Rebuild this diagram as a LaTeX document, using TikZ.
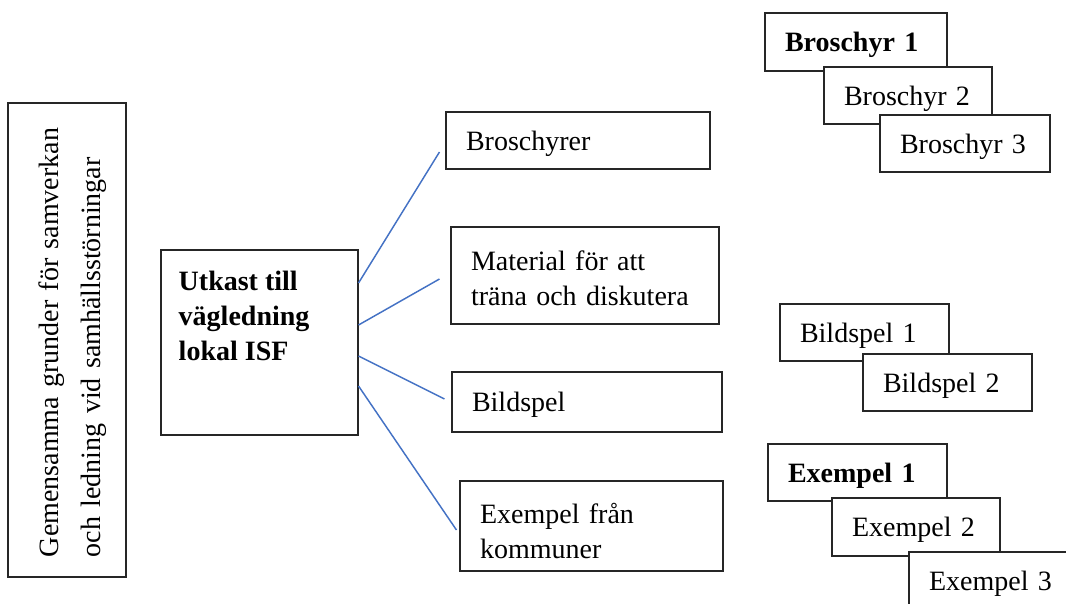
\documentclass[tikz,border=0pt]{standalone}
\usepackage{fontspec}
\setmainfont{Liberation Serif}
\usepackage{xcolor}
\usepackage{tikz}

\definecolor{linkblue}{HTML}{4472C4}
\newcommand{\boxfont}{\fontsize{21pt}{26.25pt}\selectfont}
\newcommand{\framefont}{\fontsize{21pt}{31.5pt}\selectfont}

\tikzset{
	box/.style = {draw = black!85, line width = 0.8pt, fill = white, align = left, inner xsep = 15pt, inner ysep = 0pt, font = \boxfont},
	item/.style = {box, text depth = 0pt},
	bold/.style = {font = \boxfont\bfseries},
	link/.style = {draw = linkblue, line width = 1.1pt}
}

\begin{document}
\begin{tikzpicture}[x = 0.75pt, y = -0.75pt]
					\clip (0,0) rectangle (1066,603);

					\begin{scope}
						\node [box, font = \framefont, rotate = 90, text depth = 28pt, text width = 325.5pt, minimum height = 88.5pt] (frame) at (67,340) {Gemensamma grunder för samverkan\\och ledning vid samhällsstörningar};
						\node [box, minimum width = 147.75pt, minimum height = 138.75pt] (main) at (259.5,342.5) {};
						\node [anchor = north west, inner sep = 0pt, align = left, bold] (mainText) at ([shift = {(18,21)}]main.north west) {Utkast till\\vägledning\\lokal ISF};
					\end{scope}

					\begin{scope}
						\node [item, text width = 168pt, minimum height = 42.75pt] (bro) at (578,140.5) {Broschyrer};
						\node [box, text depth = 23pt, text width = 171pt, minimum height = 72.75pt] (mat) at (585,275.5) {Material för att\\träna och diskutera};
						\node [item, text width = 172.5pt, minimum height = 45pt] (bild) at (587,402) {Bildspel};
						\node [box, text depth = 19pt, text width = 167.25pt, minimum height = 67.5pt] (ex) at (591.5,526) {Exempel från\\kommuner};
					\end{scope}

					\begin{scope}
						\coordinate (broEnd) at ([shift = {(-6,11.5)}]bro.west);
						\coordinate (matEnd) at ([shift = {(-11,3.5)}]mat.west);
						\coordinate (bildEnd) at ([shift = {(-7,-3)}]bild.west);
						\coordinate (exEnd) at ([shift = {(-3,4)}]ex.west);
						\draw [link] ([shift = {(0,-59.5)}]main.east) -- (broEnd);
						\draw [link] ([shift = {(0,-17.5)}]main.east) -- (matEnd);
						\draw [link] ([shift = {(0,13.5)}]main.east) -- (bildEnd);
						\draw [link] ([shift = {(0,43.5)}]main.east) -- (exEnd);
					\end{scope}

					\begin{scope}
						\node [item, bold, text width = 106.5pt, minimum height = 43.5pt] (bro1) at (856,42) {Broschyr 1};
						\node [item, text width = 96pt, minimum height = 42.75pt] (bro2) at (908,95.5) {Broschyr 2};
						\node [item, text width = 97.5pt, minimum height = 42.75pt] (bro3) at (965,143.5) {Broschyr 3};
					\end{scope}

					\begin{scope}
						\node [item, text width = 96.75pt, minimum height = 42.75pt] (bild1) at (864.5,332.5) {Bildspel 1};
						\node [item, text width = 96.75pt, minimum height = 42.75pt] (bild2) at (947.5,382.5) {Bildspel 2};
					\end{scope}

					\begin{scope}
						\node [item, bold, text width = 104.25pt, minimum height = 42.75pt] (ex1) at (857.5,472.5) {Exempel 1};
						\node [item, text width = 96pt, minimum height = 43.5pt] (ex2) at (916,527) {Exempel 2};
						\node [item, text width = 96pt, minimum height = 42.75pt] (ex3) at (993,580.5) {Exempel 3};
					\end{scope}
				\end{tikzpicture}
\end{document}
